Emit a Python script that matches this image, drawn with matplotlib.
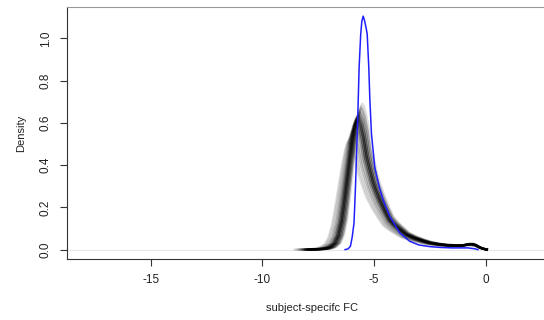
import matplotlib
matplotlib.use('Agg')
import matplotlib.pyplot as plt
import numpy as np

# typical bootstrap density curve
black_x = [-8.0, -7.6, -7.2, -6.95, -6.75, -6.6, -6.45, -6.35, -6.24, -6.12,
           -6.0, -5.9, -5.82, -5.76, -5.7, -5.6, -5.48, -5.34, -5.2, -5.05,
           -4.93, -4.75, -4.5, -4.3, -4.1, -3.9, -3.55, -3.2, -2.8, -2.5,
           -2.1, -1.76, -1.4, -1.1, -0.9, -0.75, -0.6, -0.45, -0.3, -0.15, 0.05]
black_y = [0.0, 0.001, 0.004, 0.012, 0.03, 0.065, 0.135, 0.21, 0.30, 0.40,
           0.50, 0.57, 0.61, 0.622, 0.615, 0.585, 0.53, 0.44, 0.38, 0.32,
           0.283, 0.236, 0.18, 0.14, 0.118, 0.10, 0.071, 0.055, 0.041, 0.032,
           0.025, 0.021, 0.019, 0.019, 0.022, 0.025, 0.025, 0.021, 0.012, 0.005, 0.0]

# per-curve stretch and height of the grey bundle
stretch = [1.00, 0.99, 1.01, 1.00, 0.98, 1.02, 1.00, 0.99, 1.01, 1.00,
           0.97, 1.03, 0.98, 1.02, 0.99, 1.01, 1.00, 0.96, 1.04, 1.05,
           0.98, 1.02, 1.00, 0.99, 1.01, 1.03, 0.97, 1.06, 1.00, 1.02,
           0.99, 1.01, 1.00, 0.98, 1.04, 1.07, 0.97, 1.00, 1.01, 0.99]
height = [1.00, 1.02, 0.97, 0.99, 1.05, 0.95, 1.01, 1.03, 0.98, 1.00,
          1.07, 0.92, 1.04, 0.96, 1.01, 0.98, 1.02, 1.11, 0.90, 0.86,
          1.06, 0.94, 0.99, 1.02, 0.97, 0.91, 1.09, 0.84, 1.01, 0.96,
          1.03, 0.99, 1.00, 1.04, 0.88, 0.82, 1.08, 1.00, 0.98, 1.02]

# observed curve
blue_x = [-6.3, -6.17, -6.06, -5.98, -5.9, -5.84, -5.79, -5.74, -5.67, -5.6,
          -5.55, -5.49, -5.43, -5.36, -5.31, -5.24, -5.19, -5.12, -4.97, -4.78,
          -4.6, -4.3, -3.85, -3.4, -3.0, -2.5, -2.0, -1.5, -1.1, -0.8, -0.5, -0.35]
blue_y = [0.0, 0.003, 0.016, 0.06, 0.127, 0.28, 0.44, 0.6, 0.866, 1.02,
          1.08, 1.105, 1.085, 1.05, 1.02, 0.866, 0.709, 0.55, 0.39, 0.3,
          0.236, 0.157, 0.079, 0.039, 0.022, 0.014, 0.010, 0.008, 0.008, 0.008, 0.004, 0.0]

x_ticks = [-15, -10, -5, 0]
y_ticks = [0.0, 0.2, 0.4, 0.6, 0.8, 1.0]

plt.rcParams['font.family'] = ['Liberation Sans', 'DejaVu Sans']
plt.rcParams['axes.unicode_minus'] = False

fig = plt.figure(figsize=(5.44, 3.2), dpi=100)
ax = fig.add_axes([0.123, 0.191, 0.9, 0.787])

ax.axhline(0, color='#e8e8e8', lw=0.8, zorder=0)

bx = np.array(black_x)
by = np.array(black_y)
for s, h in zip(stretch, height):
    ax.plot(bx * s, by * h, color='black', alpha=0.13, lw=1.6)

ax.plot(blue_x, blue_y, color='#2020ff', lw=1.1)

ax.set_xlim(-18.76, 3.17)
ax.set_ylim(-0.044, 1.148)
ax.set_xticks(x_ticks)
ax.set_xticklabels([str(t) for t in x_ticks])
ax.set_yticks(y_ticks)
ax.set_yticklabels(['%.1f' % t for t in y_ticks], rotation=90, va='center')

for sp in ['left', 'bottom']:
    ax.spines[sp].set_color('#333333')
ax.spines['top'].set_color('#999999')
ax.spines['right'].set_visible(False)
ax.tick_params(direction='out', length=5, width=0.8, color='#333333',
               labelsize=8.5, labelcolor='#222222', pad=6)

ax.set_xlabel('subject-specifc FC', fontsize=8, color='#222222', labelpad=12)
ax.set_ylabel('Density', fontsize=8, color='#222222', labelpad=10)

fig.savefig('out.png', dpi=100)
